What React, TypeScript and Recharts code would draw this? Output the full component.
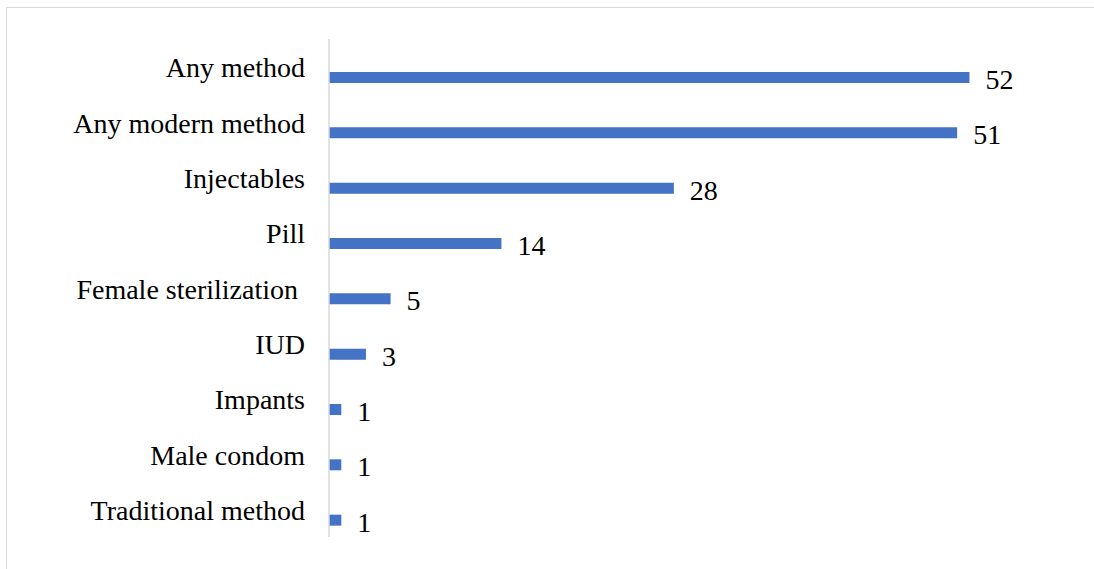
import React from 'react';
import { BarChart, Bar, XAxis, YAxis, LabelList, Rectangle } from 'recharts';

const methods = [
  'Any method',
  'Any modern method',
  'Injectables',
  'Pill',
  'Female sterilization ',
  'IUD',
  'Impants',
  'Male condom',
  'Traditional method',
];
const percents = [52, 51, 28, 14, 5, 3, 1, 1, 1];

const data = methods.map((name, i) => ({ name, value: percents[i] }));

const FONT = '"Liberation Serif", "Times New Roman", serif';
// bars sit a little below the middle of their band, as in the original
const BAR_SHIFT = 11;

const CategoryTick = (props: any) => {
  const { x, y, payload } = props;
  return (
    <text
      x={x}
      y={y + 1}
      textAnchor="end"
      dominantBaseline="central"
      fontFamily={FONT}
      fontSize={28}
      fill="#000"
      style={{ whiteSpace: 'pre' }}
    >
      {payload.value}
    </text>
  );
};

const ShiftedBar = (props: any) => <Rectangle {...props} y={props.y + BAR_SHIFT} />;

const ValueLabel = (props: any) => {
  const { x, y, width, height, value } = props;
  return (
    <text
      x={x + width + 16}
      y={y + height / 2 + BAR_SHIFT + 2}
      dominantBaseline="central"
      fontFamily={FONT}
      fontSize={28}
      fill="#000"
    >
      {value}
    </text>
  );
};

export default function App() {
  return (
    <div style={{ position: 'absolute', left: 0, top: 0, width: 1094, height: 569, background: '#fff' }}>
      <div
        style={{
          position: 'absolute',
          left: 6,
          top: 7,
          width: 1100,
          height: 580,
          border: '1px solid #d9d9d9',
          boxSizing: 'border-box',
        }}
      />
      <div style={{ position: 'absolute', left: 0, top: 0 }}>
        <BarChart
          width={1094}
          height={569}
          data={data}
          layout="vertical"
          margin={{ top: 39, right: 26, bottom: 32, left: 0 }}
          barSize={11}
        >
          <XAxis type="number" domain={[0, 60]} hide />
          <YAxis
            type="category"
            dataKey="name"
            width={329}
            axisLine={{ stroke: '#d9d9d9', strokeWidth: 1.5 }}
            tickLine={false}
            tickSize={0}
            tickMargin={24}
            tick={<CategoryTick />}
            interval={0}
          />
          <Bar dataKey="value" fill="#4472C4" isAnimationActive={false} shape={<ShiftedBar />}>
            <LabelList dataKey="value" content={<ValueLabel />} />
          </Bar>
        </BarChart>
      </div>
    </div>
  );
}
